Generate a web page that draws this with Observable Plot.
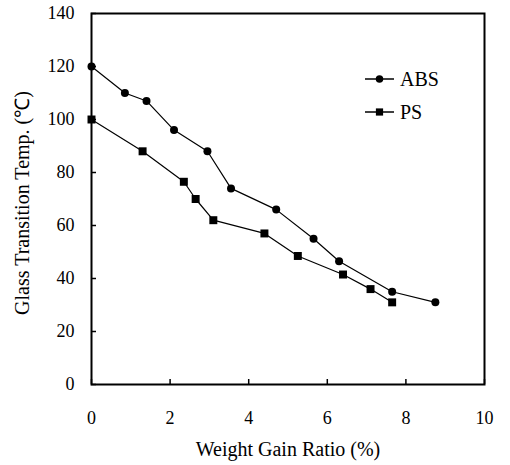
<!DOCTYPE html>
<html><head><meta charset="utf-8">
<script src="https://cdn.jsdelivr.net/npm/d3@7"></script>
<script src="https://cdn.jsdelivr.net/npm/@observablehq/plot@0.6"></script>
<style>
body{margin:0;background:#fff;}
#chart{position:relative;width:510px;height:465px;}
#chart svg, #chart svg text{font-family:"Liberation Serif","Times New Roman",serif !important;}
#legend{position:absolute;left:0;top:0;pointer-events:none;}
</style></head><body><div id="chart"></div>
<script>
const absX = [0, 0.85, 1.4, 2.1, 2.95, 3.55, 4.7, 5.65, 6.3, 7.65, 8.75];
const absY = [120, 110, 107, 96, 88, 74, 66, 55, 46.5, 35, 31];
const psX = [0, 1.3, 2.35, 2.65, 3.1, 4.4, 5.25, 6.4, 7.1, 7.65];
const psY = [100, 88, 76.5, 70, 62, 57, 48.5, 41.5, 36, 31];
const seriesNames = ["ABS", "PS"];
const seriesSymbols = ["circle", "square"];
const xTicks = [0, 2, 4, 6, 8, 10];
const yTicks = [0, 20, 40, 60, 80, 100, 120, 140];
const xTitle = "Weight Gain Ratio (%)";
const yTitle = "Glass Transition Temp. (℃)";

const abs = absX.map((x, i) => ({x, y: absY[i]}));
const ps = psX.map((x, i) => ({x, y: psY[i]}));
const font = '"Liberation Serif", "Times New Roman", serif';

const plot = Plot.plot({
  width: 510, height: 465,
  marginLeft: 91, marginRight: 26, marginTop: 13, marginBottom: 81,
  style: {fontFamily: font, fontSize: "18px", background: "white", color: "black"},
  x: {domain: [0, 10]},
  y: {domain: [0, 140]},
  marks: [
    Plot.axisX({ticks: xTicks, tickSize: 0, tickPadding: 27, label: null, fontSize: 18, fontFamily: font}),
    Plot.axisX({ticks: xTicks, tickSize: -5, tickFormat: () => "", label: null, strokeWidth: 1.5}),
    Plot.axisY({ticks: yTicks, tickSize: 0, tickPadding: 17, label: null, fontSize: 18, fontFamily: font}),
    Plot.axisY({ticks: yTicks, tickSize: -5, tickFormat: () => "", label: null, strokeWidth: 1.5}),
    Plot.frame({stroke: "black", strokeWidth: 2}),
    Plot.line(abs, {x: "x", y: "y", stroke: "black", strokeWidth: 1.2}),
    Plot.dot(abs, {x: "x", y: "y", r: 4, fill: "black", symbol: seriesSymbols[0]}),
    Plot.line(ps, {x: "x", y: "y", stroke: "black", strokeWidth: 1.2}),
    Plot.dot(ps, {x: "x", y: "y", r: 4.5, fill: "black", symbol: seriesSymbols[1]}),
    Plot.text([xTitle], {text: d => d, frameAnchor: "bottom", lineAnchor: "middle", textAnchor: "middle", dy: 65, fontSize: 20, fontFamily: font}),
    Plot.text([yTitle], {text: d => d, frameAnchor: "left", lineAnchor: "middle", textAnchor: "middle", dx: -69, dy: 4, rotate: -90, fontSize: 20, fontFamily: font})
  ]
});
document.getElementById("chart").appendChild(plot);

// legend overlay
const leg = d3.select("#chart").append("svg").attr("id", "legend")
  .attr("width", 510).attr("height", 465);
const items = leg.selectAll("g").data(seriesNames).join("g")
  .attr("transform", (d, i) => `translate(365,${79 + i * 33})`);
items.append("line").attr("x1", 0).attr("x2", 29).attr("y1", 0).attr("y2", 0)
  .attr("stroke", "black").attr("stroke-width", 1.5);
items.append("path")
  .attr("d", (d, i) => d3.symbol(seriesSymbols[i] === "circle" ? d3.symbolCircle : d3.symbolSquare, seriesSymbols[i] === "circle" ? 44 : 52)())
  .attr("transform", "translate(14.5,0)").attr("fill", "black");
items.append("text").attr("x", 35).attr("y", 0).attr("dy", "0.35em")
  .attr("font-family", font).attr("font-size", 20).text(d => d);
</script></body></html>
